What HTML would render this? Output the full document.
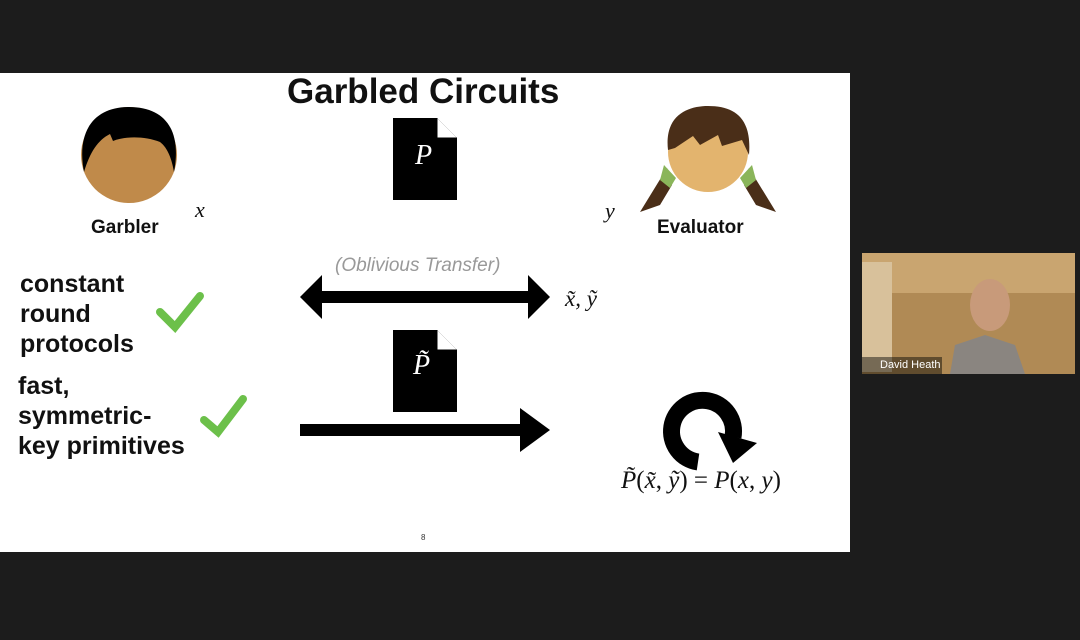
<!DOCTYPE html>
<html><head><style>
body{margin:0;width:1080px;height:640px;background:#1c1c1c;overflow:hidden;position:relative;font-family:"Liberation Sans",sans-serif}
.slide{position:absolute;left:0;top:73px;width:850px;height:479px;background:#fff}
.t{position:absolute;white-space:nowrap}
.b{font-weight:bold;color:#111}
.m{font-family:"Liberation Serif",serif;font-style:italic;color:#111}
</style></head><body>
<div class="slide"></div>
<svg style="position:absolute;left:0;top:0" width="1080" height="640">
<!-- garbler -->
<circle cx="129" cy="155" r="48" fill="#c08a4a"/>
<path d="M84,172 C76,130 95,107 129,107 C165,107 182,130 174,172 C172,160 168,148 160,142 C145,136 125,136 113,141 L110,134 C98,140 90,152 84,172 Z" fill="#000"/>
<!-- evaluator -->
<path d="M667,168 L640,212 L660,205 L672,185 Z M749,168 L776,212 L756,205 L744,185 Z" fill="#4a2e18"/>
<path d="M664,165 L676,178 L670,188 L660,180 Z M752,165 L740,178 L746,188 L756,180 Z" fill="#8ab55a"/>
<circle cx="708" cy="152" r="40" fill="#e3b46e"/>
<path d="M668,150 C664,115 688,106 708,106 C735,106 752,118 749,155 L742,140 L722,146 L718,135 L700,145 L693,136 L675,148 Z" fill="#4a2e18"/>
<!-- docs -->
<path d="M393,118 H437 L457,138 V200 H393 Z" fill="#000"/>
<path d="M437,118 V138 H457" fill="#fff" stroke="#000" stroke-width="1"/>
<path d="M393,330 H437 L457,350 V412 H393 Z" fill="#000"/>
<path d="M437,330 V350 H457" fill="#fff" stroke="#000" stroke-width="1"/>
<!-- arrows -->
<rect x="318" y="291" width="214" height="12" fill="#000"/>
<polygon points="300,297 322,275 322,319" fill="#000"/>
<polygon points="550,297 528,275 528,319" fill="#000"/>
<rect x="300" y="424" width="225" height="12" fill="#000"/>
<polygon points="550,430 520,408 520,452" fill="#000"/>
<!-- circular arrow -->
<path d="M698,462 A31,31 0 1,1 733,437" fill="none" stroke="#000" stroke-width="17"/>
<polygon points="718,432 757,443 733,463" fill="#000"/>
<!-- checks -->
<path d="M160,312 L175,327 L200,296" fill="none" stroke="#6cc04a" stroke-width="8" stroke-linecap="round"/>
<path d="M204,420 L218,432 L243,399" fill="none" stroke="#6cc04a" stroke-width="8" stroke-linecap="round"/>
<!-- webcam -->
<rect x="862" y="253" width="213" height="121" fill="#b08a55"/>
<rect x="862" y="253" width="213" height="40" fill="#c9a570"/>
<rect x="862" y="262" width="30" height="110" fill="#d8c19b"/>
<path d="M950,374 L955,345 L985,335 L1015,345 L1025,374 Z" fill="#8a8580"/>
<ellipse cx="990" cy="305" rx="20" ry="26" fill="#c89a7a"/>
<rect x="862" y="357" width="80" height="17" fill="rgba(0,0,0,.45)"/>
</svg>
<div class="t b" style="left:287px;top:72px;font-size:35px">Garbled Circuits</div>
<div class="t m" style="left:415px;top:140px;font-size:28px;color:#fff">P</div>
<div class="t m" style="left:413px;top:350px;font-size:28px;color:#fff">P̃</div>
<div class="t b" style="left:91px;top:217px;font-size:19px">Garbler</div>
<div class="t b" style="left:657px;top:217px;font-size:19px">Evaluator</div>
<div class="t m" style="left:195px;top:197px;font-size:22px">x</div>
<div class="t m" style="left:605px;top:198px;font-size:22px">y</div>
<div class="t" style="left:335px;top:255px;font-size:19px;font-style:italic;color:#999">(Oblivious Transfer)</div>
<div class="t m" style="left:565px;top:286px;font-size:23px">x̃, ỹ</div>
<div class="t b" style="left:20px;top:269px;font-size:25px;line-height:30px">constant<br>round<br>protocols</div>
<div class="t b" style="left:18px;top:371px;font-size:25px;line-height:30px">fast,<br>symmetric-<br>key primitives</div>
<div class="t m" style="left:621px;top:467px;font-size:25px;font-style:normal"><i>P̃</i>(<i>x̃</i>, <i>ỹ</i>) = <i>P</i>(<i>x</i>, <i>y</i>)</div>
<div class="t" style="left:421px;top:533px;font-size:8px;color:#333">8</div>
<div class="t" style="left:880px;top:359px;font-size:11px;color:#fff">David Heath</div>
</body></html>
